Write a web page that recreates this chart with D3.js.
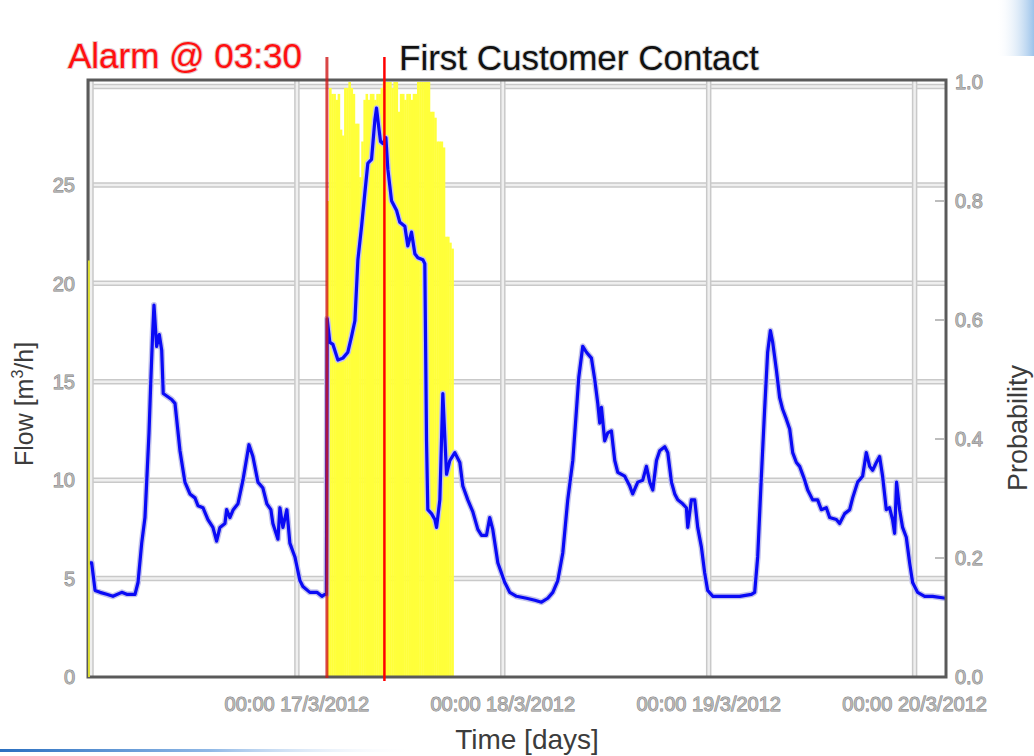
<!DOCTYPE html>
<html>
<head>
<meta charset="utf-8">
<script src="https://cdn.jsdelivr.net/npm/d3@7"></script>
<style>
  html, body { margin: 0; padding: 0; background: #ffffff; }
  svg { display: block; }
  text { font-family: "Liberation Sans", Arial, sans-serif; }
</style>
</head>
<body>
<svg id="chart" width="1034" height="756"></svg>
<script>
// ---------------- data (hours after 00:00 16/3/2012) ----------------
const flowHours = [
  -0.23, 0.08, 0.47, 1.05, 1.83, 2.56, 3.58, 4.16, 5.13, 5.48, 5.91, 6.29, 6.49, 6.76, 6.96, 7.19, 7.34,
  7.65, 7.96, 8.24, 8.42, 9.40, 9.79, 10.37, 10.95, 11.53, 12.12, 12.47, 13.05, 13.63, 14.21, 14.64,
  15.03, 15.61, 15.81, 16.19, 16.58, 17.13, 17.71, 18.41, 18.87, 19.46, 20.04, 20.50, 20.97, 21.20,
  21.79, 22.02, 22.37, 22.83, 23.18, 23.77, 24.35, 24.70, 25.51, 26.33, 26.91, 27.26, 27.44,
  27.53, 27.84, 28.19, 28.78, 29.36, 29.94, 30.37, 30.76, 31.11, 31.54, 31.92, 32.27, 32.70, 33.09,
  33.28, 33.55, 33.75, 34.02, 34.37, 34.60, 35.03, 35.62, 36.00, 36.58, 36.93, 37.36, 37.75, 38.10,
  38.68, 38.91, 39.11, 39.26, 39.69, 40.08, 40.28, 40.66, 41.01, 41.44, 41.83, 42.41, 42.99, 43.34,
  43.92, 44.50, 45.09, 45.52, 46.10, 46.48, 46.83, 47.42, 48.23, 48.81, 49.60, 50.76, 51.73, 52.51,
  53.24, 53.83, 54.41, 54.99, 55.57, 56.16, 56.59, 56.85, 57.32, 57.75, 58.33, 58.72, 59.07, 59.30,
  59.50, 59.88, 60.23, 60.66, 61.05, 61.40, 62.21, 62.80, 63.14, 63.73, 64.31, 64.74, 65.13, 65.48,
  65.91, 66.29, 66.88, 67.23, 67.66, 68.04, 68.39, 68.97, 69.40, 69.56, 69.98, 70.37, 70.72, 71.15,
  71.53, 71.88, 72.47, 74.06, 75.61, 76.98, 77.36, 77.71, 78.14, 78.52, 78.87, 79.19, 79.46, 79.89,
  80.27, 80.62, 81.05, 81.44, 81.79, 82.22, 82.60, 83.19, 83.54, 84.12, 84.70, 85.13, 85.71, 86.10,
  86.88, 87.26, 87.85, 88.43, 88.78, 89.36, 89.94, 90.37, 90.76, 91.11, 91.54, 91.92, 92.27, 92.70,
  93.08, 93.43, 93.67, 93.90, 94.25, 94.60, 95.03, 95.42, 95.77, 96.35, 97.17, 98.10, 99.61
];
const flowValues = [
  5.8, 5.8, 4.4, 4.3, 4.2, 4.1, 4.3, 4.2, 4.2, 4.8, 6.8, 8.1, 9.9, 12.4, 14.9, 17.5, 18.9,
  16.8, 17.4, 16.6, 14.4, 14.1, 13.9, 11.5, 9.9, 9.3, 9.1, 8.7, 8.6, 8.0, 7.6, 6.9,
  7.6, 7.8, 8.5, 8.1, 8.5, 8.8, 10.0, 11.8, 11.2, 9.9, 9.6, 8.8, 8.5, 7.8,
  7.0, 8.6, 7.6, 8.5, 6.8, 6.1, 4.9, 4.6, 4.3, 4.3, 4.1, 4.2, 4.2,
  18.2, 17.0, 16.9, 16.1, 16.2, 16.5, 17.3, 18.1, 21.2, 22.9, 24.6, 26.1, 26.3, 28.3,
  28.9, 27.9, 27.2, 27.1, 27.4, 25.8, 24.2, 23.7, 23.1, 22.9, 21.9, 22.6, 21.5, 21.3,
  21.2, 21.0, 12.0, 8.5, 8.3, 8.0, 7.6, 9.0, 14.4, 10.3, 11.0, 11.4, 10.9, 9.7,
  9.0, 8.4, 7.5, 7.2, 7.2, 8.1, 7.5, 5.8, 4.8, 4.3, 4.1, 4.0, 3.9, 3.8,
  4.0, 4.3, 4.9, 6.3, 9.0, 11.0, 13.6, 15.2, 16.8, 16.5, 16.2, 15.1, 13.9, 12.9,
  13.7, 12.0, 12.4, 12.5, 11.0, 10.4, 10.2, 9.7, 9.3, 9.9, 10.0, 10.7, 9.9, 9.5,
  11.0, 11.5, 11.7, 11.4, 9.9, 9.3, 9.0, 8.8, 8.6, 7.6, 9.0, 9.0, 7.6, 6.6,
  5.3, 4.4, 4.1, 4.1, 4.1, 4.2, 4.3, 6.1, 10.2, 13.6, 16.5, 17.6, 17.0, 15.6,
  14.2, 13.6, 13.1, 12.6, 11.4, 10.9, 10.7, 10.0, 9.5, 9.0, 9.0, 8.5, 8.6, 8.1,
  8.0, 7.8, 8.3, 8.5, 9.1, 9.9, 10.2, 11.4, 10.7, 10.5, 10.9, 11.2, 10.2, 8.5,
  8.6, 8.0, 7.3, 9.9, 8.5, 7.6, 7.1, 5.8, 4.8, 4.3, 4.1, 4.1, 4.0
];

// probability of burst: one short bar at the start, then 15-minute bars from 03:30 17/3
const probLeadHours = [-0.35, -0.12];
const probLeadValue = 0.70;
const probStartHour = 27.5;
const probStepHours = 0.25;
const probValues = [
  0.80, 0.99, 0.98, 0.98, 0.97, 0.98, 0.92, 0.91, 0.99, 0.99, 1.00, 0.99, 0.98, 0.93, 0.93,
  0.84, 0.90, 0.97, 0.98, 0.97, 0.98, 0.98, 0.97, 0.98, 0.98, 0.99, 1.00, 1.00, 1.00, 1.00,
  0.99, 1.00, 1.00, 0.95, 0.98, 0.98, 0.97, 0.98, 0.98, 0.97, 0.98, 0.98, 1.00, 1.00, 1.00,
  1.00, 1.00, 1.00, 0.95, 0.95, 0.94, 0.90, 0.90, 0.90, 0.89, 0.74, 0.74, 0.73, 0.72
];

const alarmHour = 27.5;     // 03:30 17/3
const contactHour = 34.2;   // first customer contact
const domainHours = [-0.35, 99.66];
const dayTickHours = [0, 24, 48, 72, 96];
const labelTickHours = [24, 48, 72, 96];
const flowTicks = [0, 5, 10, 15, 20, 25];
const flowGrid = [5, 10, 15, 20, 25, 30];
const probTicks = [0, 0.2, 0.4, 0.6, 0.8, 1.0];

// ---------------- drawing ----------------
const base = Date.UTC(2012, 2, 16, 0, 0);
const toDate = h => new Date(base + h * 3600e3);

const L = 88, R = 946, T = 80, B = 677;
const svg = d3.select("#chart");

const x = d3.scaleUtc().domain(domainHours.map(toDate)).range([L, R]);
const y = d3.scaleLinear().domain([0, 30.33]).range([B, T]);
const y2 = d3.scaleLinear().domain([0, 1]).range([B, 82]);

// decorations of the slide
const defs = svg.append("defs");
const g1 = defs.append("linearGradient").attr("id", "swoosh").attr("x1", 0).attr("x2", 1);
g1.append("stop").attr("offset", 0).attr("stop-color", "#2a6fc0");
g1.append("stop").attr("offset", 0.5).attr("stop-color", "#8fb8e6");
g1.append("stop").attr("offset", 1).attr("stop-color", "#ffffff").attr("stop-opacity", 0);
svg.append("rect").attr("x", 0).attr("y", 749).attr("width", 420).attr("height", 3).attr("fill", "url(#swoosh)");
const g2 = defs.append("linearGradient").attr("id", "corner").attr("x1", 0).attr("x2", 1).attr("y1", 0).attr("y2", 0);
g2.append("stop").attr("offset", 0).attr("stop-color", "#ffffff").attr("stop-opacity", 0);
g2.append("stop").attr("offset", 1).attr("stop-color", "#9cc3ea");
svg.append("rect").attr("x", 996).attr("y", 0).attr("width", 38).attr("height", 56).attr("fill", "url(#corner)");

// plot background
svg.append("rect").attr("x", L).attr("y", T).attr("width", R - L).attr("height", B - T).attr("fill", "#fff");

// grid: drawn as pale double lines
const grid = svg.append("g");
function gridLine(x1, y1, x2, y2) {
  grid.append("line").attr("x1", x1).attr("y1", y1).attr("x2", x2).attr("y2", y2)
    .attr("stroke", "#c9c9c9").attr("stroke-width", 5.5);
  grid.append("line").attr("x1", x1).attr("y1", y1).attr("x2", x2).attr("y2", y2)
    .attr("stroke", "#efefef").attr("stroke-width", 2.5);
}
flowGrid.forEach(v => gridLine(L, y(v), R, y(v)));
dayTickHours.forEach(h => gridLine(x(toDate(h)), T, x(toDate(h)), B));

// probability bars
const bars = svg.append("g").attr("fill", "#ffff3a");
bars.selectAll("rect.p").data(probValues).join("rect")
  .attr("class", "p")
  .attr("x", (d, i) => x(toDate(probStartHour + i * probStepHours)))
  .attr("width", (d, i) => x(toDate(probStartHour + (i + 1) * probStepHours)) - x(toDate(probStartHour + i * probStepHours)) + 0.4)
  .attr("y", d => y2(d))
  .attr("height", d => B - y2(d));

// flow line
const line = d3.line().x((d, i) => x(toDate(flowHours[i]))).y(d => y(d)).curve(d3.curveLinear);
svg.append("path").datum(flowValues).attr("d", line)
  .attr("fill", "none").attr("stroke", "#c4c4ec").attr("stroke-width", 6).attr("stroke-linejoin", "round");
svg.append("path").datum(flowValues).attr("d", line)
  .attr("fill", "none").attr("stroke", "#0a0af5").attr("stroke-width", 3.2).attr("stroke-linejoin", "round");

// frame
svg.append("rect").attr("x", L).attr("y", T).attr("width", R - L).attr("height", B - T)
  .attr("fill", "none").attr("stroke", "#5a5a5a").attr("stroke-width", 3);

// lead probability bar (drawn over the left frame)
svg.append("rect")
  .attr("x", x(toDate(probLeadHours[0])))
  .attr("width", x(toDate(probLeadHours[1])) - x(toDate(probLeadHours[0])))
  .attr("y", y2(probLeadValue)).attr("height", B - y2(probLeadValue))
  .attr("fill", "#e8e830").attr("opacity", 0.9);

// right-axis inward ticks
svg.append("g").selectAll("line").data(probTicks.filter(v => v > 0 && v < 1)).join("line")
  .attr("x1", R - 11).attr("x2", R - 2).attr("y1", d => y2(d)).attr("y2", d => y2(d))
  .attr("stroke", "#bdbdbd").attr("stroke-width", 2);

// tick labels
const tickStyle = sel => sel.attr("font-size", 20).attr("fill", "#b4b4b4")
  .attr("stroke", "#7d7d7d").attr("stroke-width", 0.9).attr("paint-order", "stroke");

svg.append("g").selectAll("text").data(flowTicks).join("text")
  .attr("x", 75).attr("y", d => y(d)).attr("dy", "0.36em").attr("text-anchor", "end")
  .text(d => d).call(tickStyle);

svg.append("g").selectAll("text").data(probTicks).join("text")
  .attr("x", 955).attr("y", d => y2(d)).attr("dy", "0.36em").attr("text-anchor", "start")
  .text(d => d3.format(".1f")(d)).call(tickStyle);

const fmt = d3.utcFormat("%H:%M %-d/%-m/%Y");
svg.append("g").selectAll("text").data(labelTickHours).join("text")
  .attr("x", h => x(toDate(h))).attr("y", 711).attr("text-anchor", "middle")
  .text(h => fmt(toDate(h))).call(tickStyle);

// axis titles
svg.append("text").attr("x", 527).attr("y", 749).attr("text-anchor", "middle")
  .attr("font-size", 28).attr("fill", "#3c3c3c").text("Time [days]");

const fl = svg.append("text").attr("transform", "translate(33,404) rotate(-90)")
  .attr("text-anchor", "middle").attr("font-size", 25).attr("fill", "#3c3c3c");
fl.append("tspan").text("Flow [m");
fl.append("tspan").attr("font-size", 16).attr("dy", -10).text("3");
fl.append("tspan").attr("dy", 10).text("/h]");

svg.append("text").attr("transform", "translate(1027,428) rotate(-90)")
  .attr("text-anchor", "middle").attr("font-size", 27).attr("fill", "#3c3c3c").text("Probability");

// event markers
svg.append("line").attr("x1", x(toDate(alarmHour))).attr("x2", x(toDate(alarmHour)))
  .attr("y1", 57).attr("y2", B + 1).attr("stroke", "#d01818").attr("stroke-opacity", 0.8).attr("stroke-width", 3);
svg.append("line").attr("x1", x(toDate(contactHour))).attr("x2", x(toDate(contactHour)))
  .attr("y1", 57).attr("y2", B + 4).attr("stroke", "#ff0000").attr("stroke-width", 2.5);

svg.append("text").attr("x", 68).attr("y", 68).attr("font-size", 35).attr("fill", "#ff1010")
  .attr("stroke", "#e6c8c8").attr("stroke-width", 2).attr("paint-order", "stroke").text("Alarm @ 03:30");
svg.append("text").attr("x", 399).attr("y", 70).attr("font-size", 35).attr("fill", "#111")
  .attr("stroke", "#d8d8d8").attr("stroke-width", 2).attr("paint-order", "stroke").text("First Customer Contact");
</script>
</body>
</html>
